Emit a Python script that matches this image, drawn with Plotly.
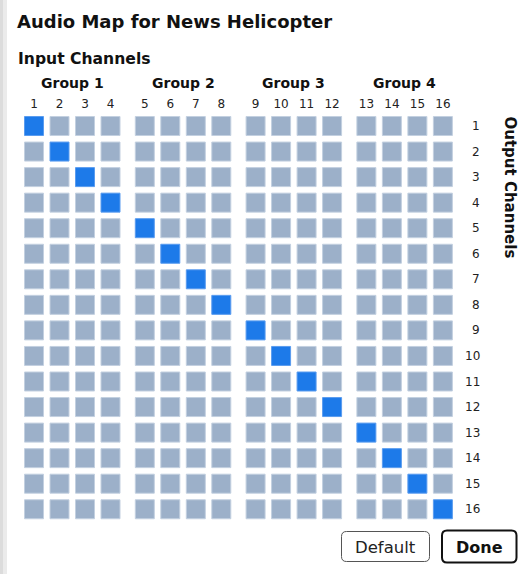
import plotly.graph_objects as go

# ---- data ----
input_channels = list(range(1, 17))
output_channels = list(range(1, 17))
routing = list(range(1, 17))          # output channel i <- input channel routing[i-1]
group_labels = ["Group 1", "Group 2", "Group 3", "Group 4"]
channels_per_group = 4

W, H = 521, 574
# plot area in pixels
PX0, PX1, PY0, PY1 = 20, 460, 111, 525
L, R, T, B = PX0, W - PX1, PY0, H - PY1
PW, PH = PX1 - PX0, PY1 - PY0
GROUP_GAP = 0.345

FONT = "DejaVu Sans"
GRAY = "#9cb0c9"
GRAY_EDGE = "#c3d0e0"
BLUE = "#1d7ae9"
BLUE_EDGE = "#5a9cef"


def px_x(px):
    return (px - PX0) / PW


def px_y(py):
    return 1 - (py - PY0) / PH


def col_pos(ch):
    return (ch - 1) + GROUP_GAP * ((ch - 1) // channels_per_group)


xs, ys, cols, lines = [], [], [], []
for o in output_channels:
    for i in input_channels:
        xs.append(col_pos(i))
        ys.append(o)
        on = routing[o - 1] == i
        cols.append(BLUE if on else GRAY)
        lines.append(BLUE_EDGE if on else GRAY_EDGE)

fig = go.Figure()
fig.add_trace(go.Scatter(
    x=xs, y=ys, mode="markers", hoverinfo="skip",
    marker=dict(symbol="square", size=19, color=cols,
                line=dict(color=lines, width=1)),
))

# x: px = 34 + x*25.5 ; y: px = 126 + (row-1)*25.55
x0 = (PX0 - 34) / 25.5
x1 = (PX1 - 34) / 25.5
y_top = 1 + (PY0 - 126) / 25.55
y_bot = 1 + (PY1 - 126) / 25.55

fig.update_xaxes(range=[x0, x1], showgrid=False, zeroline=False, side="top",
                 tickvals=[col_pos(c) for c in input_channels],
                 ticktext=[str(c) for c in input_channels],
                 ticks="", ticklabelstandoff=0, showline=False,
                 tickfont=dict(family=FONT, size=12, color="#222"))
fig.update_yaxes(range=[y_bot, y_top], showgrid=False, zeroline=False,
                 showticklabels=False, showline=False)

annotations = []
# group labels
for g, lab in enumerate(group_labels):
    first = g * channels_per_group + 1
    last = first + channels_per_group - 1
    cx = (col_pos(first) + col_pos(last)) / 2
    annotations.append(dict(x=cx, xref="x", y=px_y(83), yref="paper",
                            text=f"<b>{lab}</b>", showarrow=False,
                            xanchor="center", yanchor="middle",
                            font=dict(family=FONT, size=14, color="#111")))
# row labels
for o in output_channels:
    annotations.append(dict(x=px_x(482), xref="paper", y=o, yref="y",
                            text=str(o), showarrow=False,
                            xanchor="right", yanchor="middle",
                            font=dict(family=FONT, size=12, color="#222")))
annotations.append(dict(x=px_x(16), y=px_y(59), xref="paper", yref="paper",
                        text="<b>Input Channels</b>", showarrow=False,
                        xanchor="left", yanchor="middle",
                        font=dict(family=FONT, size=15.6, color="#111")))
annotations.append(dict(x=px_x(509), y=px_y(187.5), xref="paper", yref="paper",
                        text="<b>Output Channels</b>", showarrow=False,
                        textangle=90, xanchor="center", yanchor="middle",
                        font=dict(family=FONT, size=15, color="#111")))
annotations.append(dict(x=px_x(385.5), y=px_y(547), xref="paper", yref="paper",
                        text="Default", showarrow=False,
                        xanchor="center", yanchor="middle",
                        font=dict(family=FONT, size=16.5, color="#222")))
annotations.append(dict(x=px_x(479.5), y=px_y(547), xref="paper", yref="paper",
                        text="<b>Done</b>", showarrow=False,
                        xanchor="center", yanchor="middle",
                        font=dict(family=FONT, size=16, color="#111")))


def rounded(xa, ya, xb, yb, r):
    rx, ry = r / PW, r / PH
    X0, X1 = px_x(xa), px_x(xb)
    Y0, Y1 = px_y(yb), px_y(ya)
    return (f"M {X0+rx},{Y1} L {X1-rx},{Y1} Q {X1},{Y1} {X1},{Y1-ry} "
            f"L {X1},{Y0+ry} Q {X1},{Y0} {X1-rx},{Y0} L {X0+rx},{Y0} "
            f"Q {X0},{Y0} {X0},{Y0+ry} L {X0},{Y1-ry} Q {X0},{Y1} {X0+rx},{Y1} Z")


shapes = [
    dict(type="rect", xref="paper", yref="paper", x0=px_x(0), x1=px_x(3),
         y0=px_y(H), y1=px_y(0), fillcolor="#dcdcdc", line=dict(width=0),
         layer="above"),
    dict(type="rect", xref="paper", yref="paper", x0=px_x(3), x1=px_x(7),
         y0=px_y(H), y1=px_y(0), fillcolor="#ebebeb", line=dict(width=0),
         layer="above"),
    dict(type="path", xref="paper", yref="paper",
         path=rounded(341.5, 531.5, 429.5, 561.5, 5),
         fillcolor="white", line=dict(color="#555", width=1)),
    dict(type="path", xref="paper", yref="paper",
         path=rounded(442, 530.5, 516.5, 562.5, 5),
         fillcolor="white", line=dict(color="#111", width=2)),
]

fig.update_layout(
    width=W, height=H,
    margin=dict(l=L, r=R, t=T, b=B, autoexpand=False),
    paper_bgcolor="white", plot_bgcolor="white",
    showlegend=False,
    title=dict(text="<b>Audio Map for News Helicopter</b>",
               x=17 / W, xanchor="left", xref="container",
               y=1 - 22 / H, yanchor="middle", yref="container",
               font=dict(family=FONT, size=18, color="#111")),
    annotations=annotations,
    shapes=shapes,
)

fig.write_html(
    "out.html",
    config={"displayModeBar": False},
    post_script=("document.documentElement.style.margin='0';"
                 "document.body.style.margin='0';"
                 "document.body.style.overflow='hidden';"
                 "document.documentElement.style.overflow='hidden';"),
)
